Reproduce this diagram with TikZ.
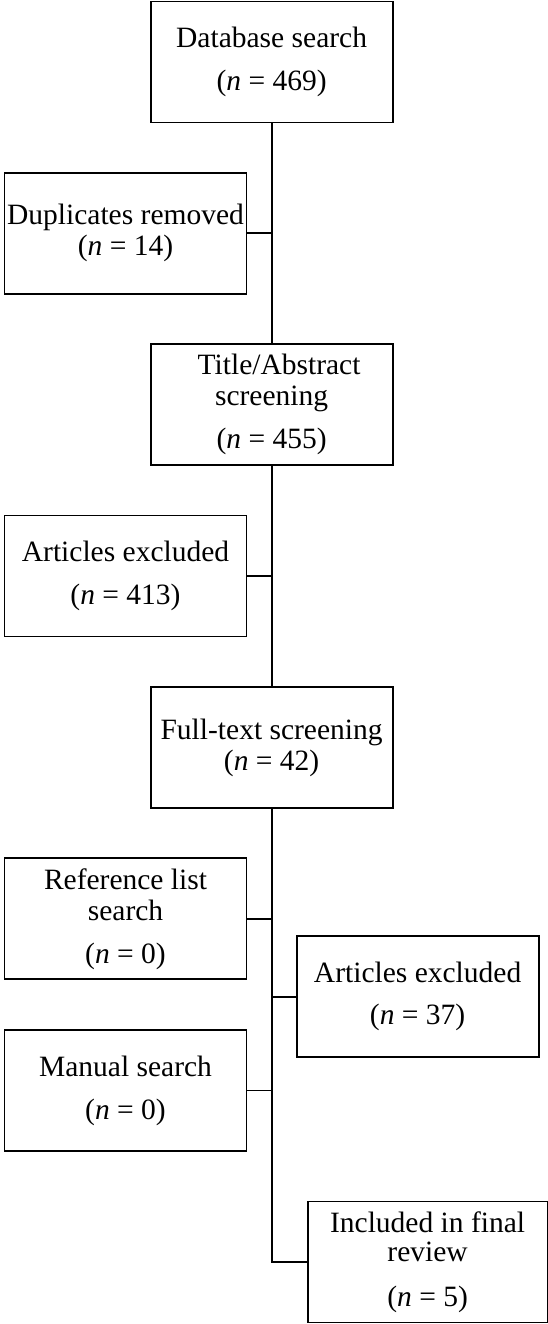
\documentclass[tikz,border=0pt]{standalone}
\usepackage{fontspec}
\setmainfont{Liberation Serif}
\begin{document}
\begin{tikzpicture}[x=1pt,y=-1pt,
  box/.style={draw=black, line width=1.9pt, rectangle, inner sep=0pt,
    minimum width=242pt, minimum height=121pt, align=center,
    font=\fontsize{29.5}{31}\selectfont},
  conn/.style={draw=black, line width=1.9pt}]
\useasboundingbox (0,0) rectangle (548,1324);
\fill[white] (0,0) rectangle (548,1324);

\node[box] (db) at (271.6,62) {Database search\\[12pt](\textit{n} = 469)};
\node[box] (dup) at (125.5,233.3) {Duplicates removed\\(\textit{n} = 14)};
\node[box] (title) at (271.6,404.7) {\hspace*{15pt}Title/Abstract\\screening\\[12pt](\textit{n} = 455)};
\node[box] (excla) at (125.5,576) {Articles excluded\\[12pt](\textit{n} = 413)};
\node[box] (full) at (271.6,747.7) {Full-text screening\\(\textit{n} = 42)};
\node[box] (ref) at (125.5,918.8) {Reference list\\search\\[12pt](\textit{n} = 0)};
\node[box] (exclb) at (417.6,996.8) {Articles excluded\\[11pt](\textit{n} = 37)};
\node[box] (man) at (125.5,1090.5) {Manual search\\[12pt](\textit{n} = 0)};
\node[box, minimum width=240pt] (incl) at (427.6,1262) {Included in final\\[-2pt]review\\[14pt](\textit{n} = 5)};

\draw[conn] (db.south) -- (title.north);
\draw[conn] (title.south) -- (full.north);
\draw[conn] (full.south) -- (full.south |- incl.west) -- (incl.west);
\draw[conn] (dup.east) -- (dup.east -| db.south);
\draw[conn] (excla.east) -- (excla.east -| title.south);
\draw[conn] (ref.east) -- (ref.east -| full.south);
\draw[conn] (man.east) -- (man.east -| full.south);
\draw[conn] (exclb.west) -- (exclb.west -| full.south);
\end{tikzpicture}
\end{document}
